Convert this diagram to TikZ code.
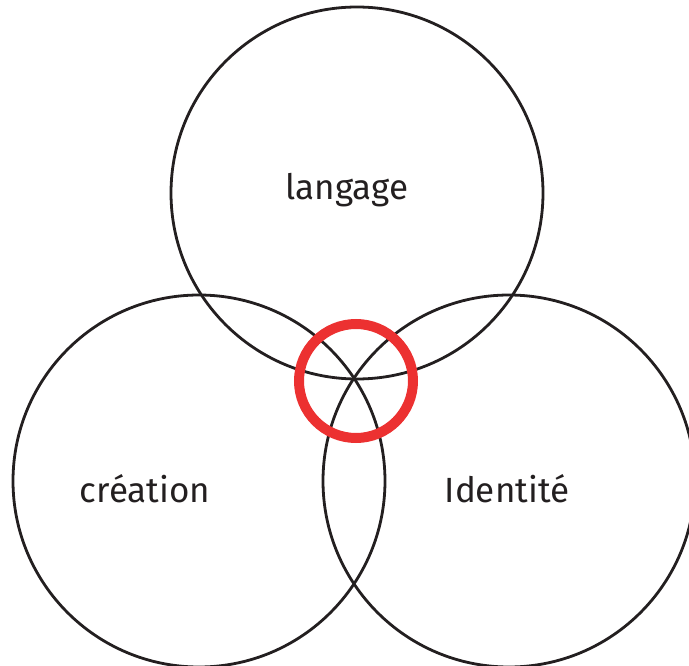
\documentclass[tikz,border=0pt]{standalone}
\usepackage{fontspec}
\setmainfont{Fira Sans}
\definecolor{ringred}{RGB}{236,49,49}
\definecolor{ink}{RGB}{35,31,32}
\tikzset{
  bigcircle/.style={circle, draw=ink, line width=2.8pt, minimum size=372pt, inner sep=0pt},
  ring/.style={circle, draw=ringred, line width=10pt, minimum size=114pt, inner sep=0pt},
  lbl/.style={font=\fontsize{35}{42}\selectfont, text=ink, inner sep=0pt}
}
\begin{document}
\begin{tikzpicture}[x=1pt,y=-1pt]
\useasboundingbox (0,0) rectangle (689,666);
\clip (0,0) rectangle (689,666);
\node[bigcircle] (top) at (357,193) {};
\node[bigcircle] (left) at (199,481) {};
\node[bigcircle] (right) at (509,481) {};
\node[ring] (center) at (356,381) {};
\node[lbl] (t1) at (347,190) {langage};
\node[lbl] (t2) at (145,489) {création};
\node[lbl] (t3) at (507,489) {Identité};
\end{tikzpicture}
\end{document}
